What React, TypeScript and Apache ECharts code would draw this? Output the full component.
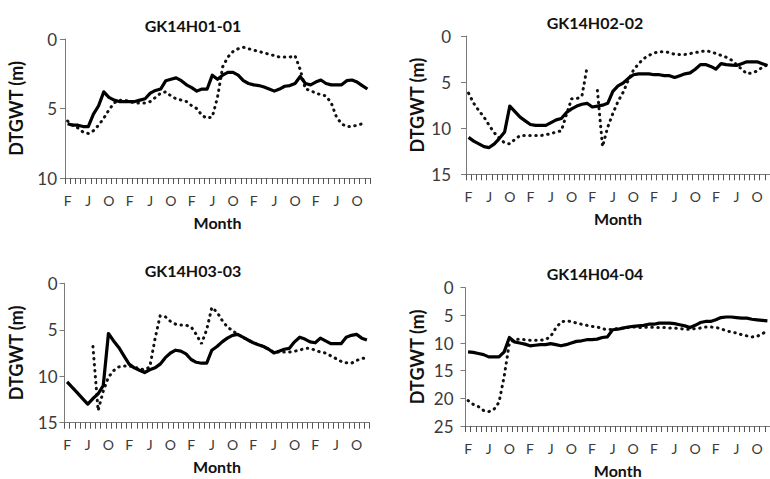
import React, { useEffect, useRef } from "react";
import * as echarts from "echarts";

// Month initials, January first; the record starts in February and runs 59 months.
const MONTH_LETTERS = ["J", "F", "M", "A", "M", "J", "J", "A", "S", "O", "N", "D"];
const FIRST_MONTH = 1;
const MONTH_COUNT = 59;
const MONTH_TICKS = Array.from({ length: MONTH_COUNT }, (_, i) => MONTH_LETTERS[(FIRST_MONTH + i) % 12]);
const CATEGORY_KEYS = MONTH_TICKS.map((m, i) => `${i}-${m}`);

const TITLES = ["GK14H01-01", "GK14H02-02", "GK14H03-03", "GK14H04-04"];
const Y_MAX = [10, 15, 15, 25];
const Y_STEP = 5;

// Depth to groundwater table (m), solid = observed well, dotted = comparison record
const H01_SOLID = [
  6.1, 6.2, 6.2, 6.3, 6.3, 5.4, 4.8, 3.8, 4.2, 4.4,
  4.5, 4.5, 4.5, 4.5, 4.4, 4.3, 3.9, 3.7, 3.6, 3.0,
  2.9, 2.8, 3.0, 3.3, 3.5, 3.75, 3.6, 3.6, 2.6, 2.9,
  2.6, 2.4, 2.4, 2.6, 3.0, 3.2, 3.3, 3.35, 3.45, 3.6,
  3.75, 3.6, 3.4, 3.35, 3.2, 2.7, 3.2, 3.3, 3.1, 2.95,
  3.2, 3.3, 3.3, 3.3, 3.0, 2.95, 3.1, 3.35, 3.6,
];
const H01_DOTTED = [
  5.9, 6.2, 6.4, 6.7, 6.8, 6.6, 6.2, 5.7, 5.1, 4.6,
  4.4, 4.4, 4.5, 4.6, 4.6, 4.6, 4.5, 4.2, 3.9, 3.8,
  4.1, 4.3, 4.4, 4.5, 4.8, 5.0, 5.5, 5.7, 5.6, 4.2,
  2.0, 1.3, 0.9, 0.7, 0.6, 0.7, 0.8, 0.9, 1.0, 1.1,
  1.2, 1.3, 1.3, 1.3, 1.2, 2.2, 3.6, 3.7, 3.9, 4.0,
  4.1, 4.6, 5.6, 6.1, 6.3, 6.3, 6.2, 6.1, null,
];
const H02_SOLID = [
  11.0, 11.4, 11.7, 12.0, 12.1, 11.7, 11.1, 10.4, 7.6, 8.2,
  8.8, 9.2, 9.6, 9.7, 9.7, 9.7, 9.4, 9.1, 8.95, 8.3,
  7.9, 7.6, 7.4, 7.3, 7.7, 7.6, 7.5, 7.3, 6.0, 5.4,
  5.1, 4.6, 4.2, 4.1, 4.1, 4.1, 4.2, 4.2, 4.3, 4.3,
  4.5, 4.3, 4.1, 4.0, 3.6, 3.1, 3.1, 3.3, 3.6, 3.0,
  3.1, 3.15, 3.2, 3.0, 2.8, 2.8, 2.8, 3.0, 3.2,
];
const H02_DOTTED = [
  6.2, 7.3, 8.1, 8.8, 9.7, 10.5, 11.1, 11.6, 11.7, 11.2,
  10.8, 10.8, 10.8, 10.8, 10.8, 10.7, 10.6, 10.4, 10.3, 8.5,
  6.8, 6.8, 6.5, 3.4, null, 5.9, 12.0, 9.9, 8.4, 7.1,
  6.1, 4.8, 3.7, 3.0, 2.45, 2.1, 1.85, 1.7, 1.7, 1.8,
  2.0, 2.0, 2.0, 1.9, 1.8, 1.7, 1.6, 1.7, 1.9, 2.1,
  2.3, 2.6, 3.1, 3.6, 4.1, 4.0, 3.8, 3.4, 3.1,
];
const H03_SOLID = [
  10.6, 11.2, 11.8, 12.4, 13.0, 12.4, 11.9, 11.0, 5.4, 6.2,
  6.9, 7.8, 8.7, 9.1, 9.35, 9.6, 9.3, 9.1, 8.7, 8.0,
  7.5, 7.2, 7.3, 7.6, 8.2, 8.5, 8.6, 8.6, 7.2, 6.8,
  6.3, 5.9, 5.6, 5.5, 5.8, 6.1, 6.4, 6.6, 6.8, 7.1,
  7.5, 7.3, 7.1, 7.0, 6.3, 5.8, 6.0, 6.3, 6.4, 5.9,
  6.2, 6.5, 6.5, 6.5, 5.8, 5.6, 5.5, 5.9, 6.1,
];
const H03_DOTTED = [
  null, null, null, null, null, 6.8, 13.7, 11.6, 10.1, 9.4,
  9.0, 8.9, 8.9, 9.0, 9.2, 9.3, 9.0, 6.0, 3.5, 3.6,
  4.1, 4.4, 4.5, 4.5, 4.7, 5.5, 6.5, 5.0, 2.6, 3.1,
  4.0, 4.7, 5.1, 5.5, 5.8, 6.1, 6.4, 6.6, 6.8, 7.1,
  7.4, 7.4, 7.4, 7.4, 7.3, 7.2, 7.0, 7.0, 7.2, 7.4,
  7.5, 7.8, 8.1, 8.4, 8.55, 8.6, 8.3, 8.1, 8.0,
];
const H04_SOLID = [
  11.6, 11.7, 11.9, 12.1, 12.5, 12.5, 12.5, 11.6, 9.0, 9.8,
  10.0, 10.2, 10.5, 10.4, 10.3, 10.3, 10.1, 10.3, 10.5, 10.3,
  10.0, 9.7, 9.6, 9.4, 9.4, 9.3, 9.0, 8.9, 7.6, 7.5,
  7.3, 7.1, 7.0, 6.9, 6.8, 6.6, 6.6, 6.4, 6.4, 6.4,
  6.5, 6.7, 6.9, 7.2, 6.8, 6.3, 6.1, 6.1, 5.8, 5.4,
  5.3, 5.3, 5.4, 5.5, 5.5, 5.7, 5.8, 5.9, 6.0,
];
const H04_DOTTED = [
  20.4, 21.1, 21.5, 22.2, 22.4, 22.0, 20.7, 16.0, 10.0, 9.3,
  9.3, 9.4, 9.5, 9.5, 9.5, 9.4, 8.8, 7.3, 6.2, 6.0,
  6.1, 6.4, 6.6, 6.8, 7.0, 7.1, 7.4, 7.6, 7.5, 7.4,
  7.3, 7.2, 7.1, 7.2, 7.2, 7.1, 7.2, 7.2, 7.2, 7.3,
  7.3, 7.4, 7.5, 7.5, 7.4, 7.3, 7.1, 7.1, 7.2, 7.4,
  7.8, 8.0, 8.2, 8.5, 8.7, 8.9, 8.8, 8.3, 7.9,
];

const SOLID = [H01_SOLID, H02_SOLID, H03_SOLID, H04_SOLID];
const DOTTED = [H01_DOTTED, H02_DOTTED, H03_DOTTED, H04_DOTTED];

// Plot rectangles (px) and per-panel label offsets
const GRIDS = [
  { left: 65, top: 39, width: 305, height: 139 },
  { left: 466, top: 36, width: 307.4, height: 138.3 },
  { left: 64.5, top: 283.3, width: 305, height: 139.4 },
  { left: 465.5, top: 287.7, width: 307.4, height: 139 },
];
const TITLE_POS = [
  { x: 188, y: 21 },
  { x: 590, y: 18 },
  { x: 188, y: 266 },
  { x: 590, y: 269 },
];
const Y_LABEL_MARGIN = [8, 15, 7, 12];

const FONT = "Lato, 'Open Sans', sans-serif";
const AXIS_GRAY = "#7a7a7a";

export default function App() {
  const ref = useRef<HTMLDivElement>(null);

  useEffect(() => {
    if (!ref.current) return;
    const chart = echarts.init(ref.current, undefined, { renderer: "svg" });

    const grid = GRIDS.map((g) => ({ ...g, containLabel: false }));

    const xAxis = GRIDS.map((_, k) => ({
      type: "category" as const,
      gridIndex: k,
      position: "bottom" as const,
      data: CATEGORY_KEYS,
      boundaryGap: true,
      name: "Month",
      nameLocation: "middle" as const,
      nameGap: 36,
      nameTextStyle: { fontFamily: FONT, fontWeight: "bold" as const, fontSize: 16, color: "#111" },
      axisLine: { onZero: false, lineStyle: { color: AXIS_GRAY, width: 1 } },
      axisTick: { show: true, interval: 0, length: 6, lineStyle: { color: "#555", width: 1 } },
      axisLabel: {
        interval: 3,
        margin: 15,
        fontFamily: FONT,
        fontSize: 14,
        color: "#3a3a3a",
        formatter: (_v: string, i: number) => MONTH_TICKS[i],
      },
      splitLine: { show: false },
    }));

    const yAxis = GRIDS.map((_, k) => ({
      type: "value" as const,
      gridIndex: k,
      inverse: true,
      min: 0,
      max: Y_MAX[k],
      interval: Y_STEP,
      name: "DTGWT (m)",
      nameLocation: "middle" as const,
      nameGap: 40,
      nameRotate: 90,
      nameTextStyle: { fontFamily: FONT, fontWeight: "bold" as const, fontSize: 18, color: "#111" },
      axisLine: { show: true, lineStyle: { color: AXIS_GRAY, width: 1 } },
      axisTick: { show: true, length: 5, lineStyle: { color: AXIS_GRAY } },
      axisLabel: { margin: Y_LABEL_MARGIN[k], fontFamily: FONT, fontSize: 17, color: "#3a3a3a" },
      splitLine: { show: false },
    }));

    const series: any[] = [];
    GRIDS.forEach((_, k) => {
      series.push({
        type: "line",
        xAxisIndex: k,
        yAxisIndex: k,
        data: DOTTED[k],
        showSymbol: false,
        connectNulls: false,
        lineStyle: { color: "#111", width: 3, type: [0.5, 5.5], cap: "round" },
        z: 2,
      });
      series.push({
        type: "line",
        xAxisIndex: k,
        yAxisIndex: k,
        data: SOLID[k],
        showSymbol: false,
        lineStyle: { color: "#000", width: 3.2, join: "round" },
        z: 3,
      });
    });

    const title = TITLES.map((t, k) => ({
      text: t,
      left: TITLE_POS[k].x,
      top: TITLE_POS[k].y - 9,
      textAlign: "center" as const,
      textStyle: { fontFamily: FONT, fontWeight: "bold" as const, fontSize: 16, color: "#111" },
    }));

    chart.setOption({
      animation: false,
      backgroundColor: "#fff",
      title,
      grid,
      xAxis,
      yAxis,
      series,
    });

    return () => chart.dispose();
  }, []);

  return (
    <div
      ref={ref}
      style={{ position: "absolute", left: 0, top: 0, width: 770, height: 479 }}
    />
  );
}
